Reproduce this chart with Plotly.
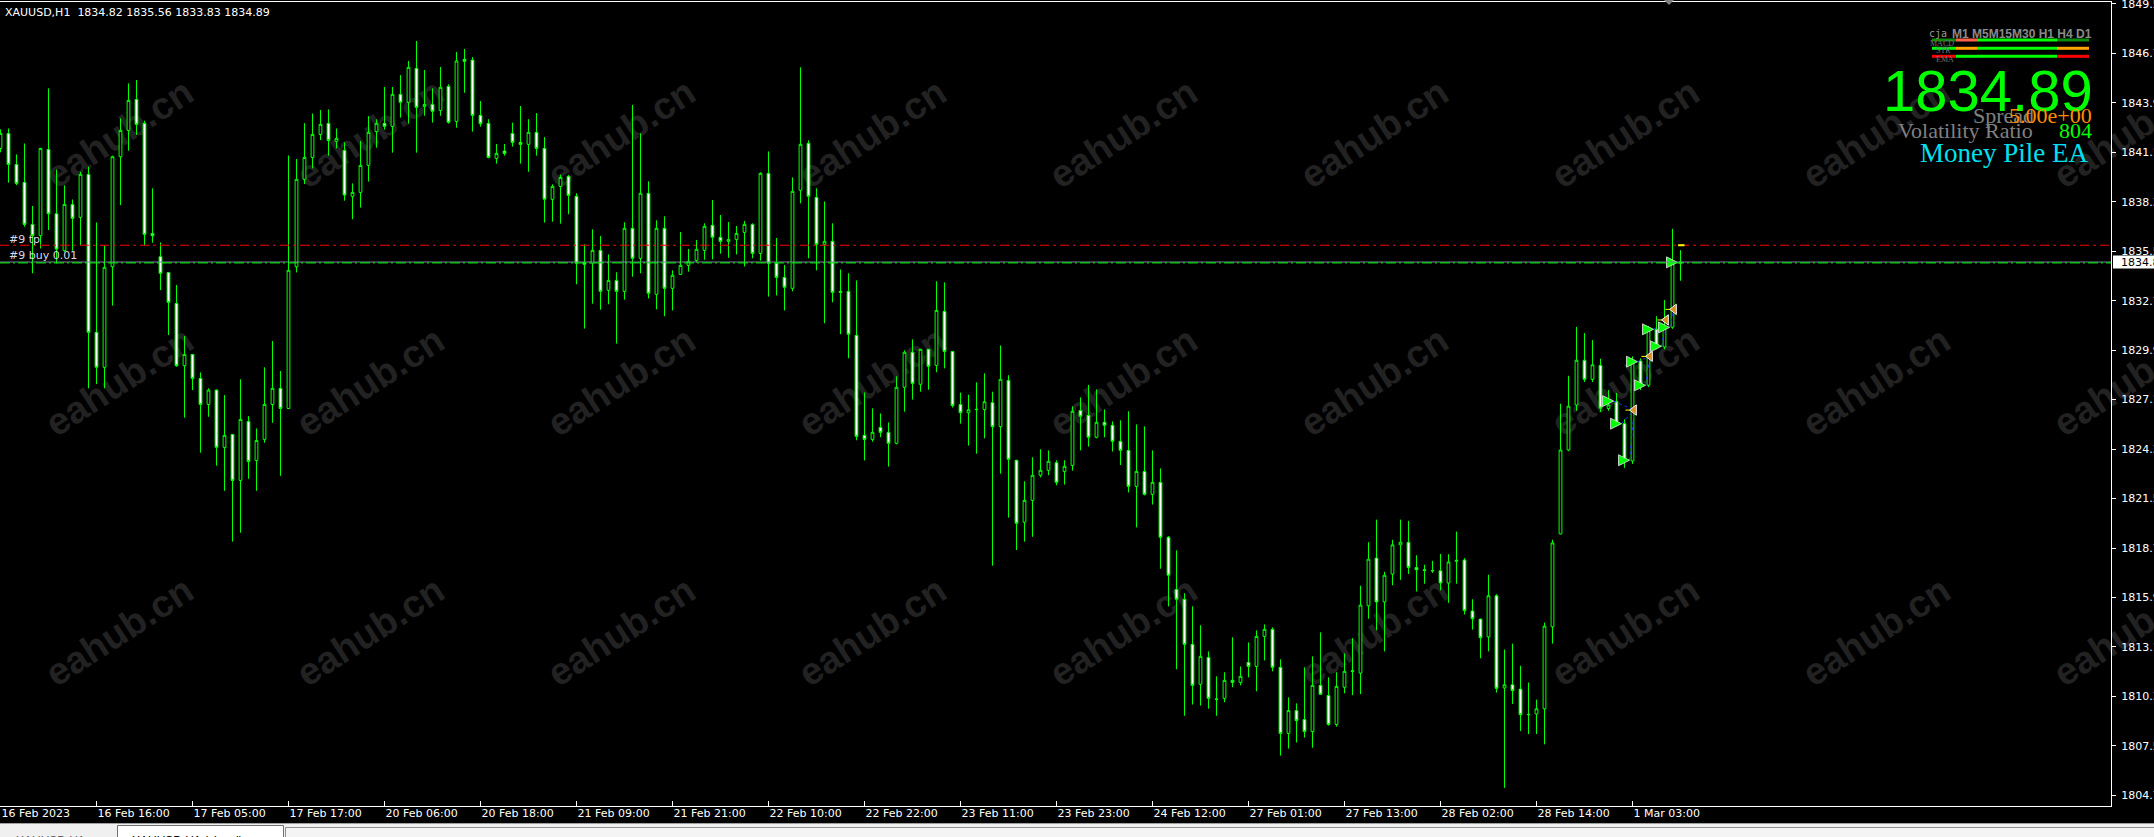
import plotly.graph_objects as go

# ---------------- data (XAUUSD H1) ----------------
opens = [1841.32, 1842.17, 1840.41, 1839.40, 1837.02, 1836.38, 1841.26, 1837.62, 1835.53, 1838.15,
         1837.42, 1839.85, 1830.91, 1828.93, 1834.62, 1840.85, 1842.34, 1844.09, 1842.74, 1836.51,
         1835.19, 1834.30, 1832.55, 1829.02, 1829.66, 1828.30, 1826.83, 1827.64, 1824.40, 1825.13,
         1822.53, 1825.87, 1823.66, 1824.85, 1826.83, 1827.74, 1826.60, 1834.62, 1839.57, 1840.81,
         1842.11, 1842.74, 1841.72, 1841.21, 1838.61, 1838.83, 1840.36, 1842.27, 1842.74, 1842.57,
         1844.38, 1843.93, 1845.85, 1843.70, 1843.81, 1843.47, 1844.83, 1842.85, 1846.36, 1846.32,
         1843.19, 1842.74, 1840.76, 1841.17, 1842.17, 1841.66, 1841.55, 1842.23, 1841.32, 1838.44,
         1839.17, 1839.74, 1838.61, 1834.87, 1834.82, 1835.55, 1833.29, 1833.85, 1833.23, 1836.80,
         1835.10, 1838.78, 1833.06, 1836.80, 1833.40, 1834.19, 1834.70, 1834.98, 1835.55, 1836.97,
         1836.29, 1836.06, 1836.17, 1836.57, 1837.02, 1835.38, 1839.91, 1834.82, 1834.02, 1833.40,
         1838.95, 1841.61, 1838.55, 1835.89, 1836.06, 1833.23, 1833.23, 1830.74, 1825.08, 1824.85,
         1825.53, 1825.25, 1824.63, 1827.80, 1829.78, 1827.97, 1829.95, 1829.04, 1832.10, 1829.83,
         1826.82, 1826.36, 1826.53, 1826.53, 1826.93, 1825.57, 1828.19, 1823.67, 1820.16, 1821.40,
         1822.82, 1823.10, 1823.53, 1823.04, 1823.38, 1826.49, 1826.21, 1824.97, 1825.82, 1825.65,
         1824.74, 1824.23, 1822.19, 1823.04, 1821.74, 1822.42, 1819.31, 1816.36, 1815.80, 1813.25,
         1810.99, 1812.51, 1810.16, 1810.19, 1811.21, 1811.10, 1812.23, 1812.00, 1813.70, 1814.10,
         1811.95, 1808.21, 1809.50, 1808.99, 1808.31, 1810.93, 1810.36, 1808.72, 1810.82, 1811.71,
         1811.62, 1815.43, 1818.13, 1815.65, 1817.23, 1818.88, 1819.03, 1817.60, 1817.47, 1817.43,
         1817.41, 1816.72, 1817.95, 1818.02, 1815.14, 1814.68, 1813.67, 1816.00, 1810.78, 1810.96,
         1810.72, 1809.29, 1809.31, 1809.60, 1814.24, 1819.50, 1824.25, 1826.80, 1829.33, 1828.25,
         1829.04, 1826.60, 1827.00, 1825.74, 1823.63, 1829.29, 1827.92, 1831.09, 1830.08, 1831.20,
         1834.82]
highs = [1842.40, 1842.45, 1840.98, 1841.60, 1838.06, 1841.35, 1844.72, 1840.13, 1839.23, 1838.43,
         1840.00, 1840.28, 1837.13, 1835.83, 1840.91, 1843.02, 1845.00, 1845.19, 1842.89, 1839.06,
         1836.00, 1834.32, 1833.59, 1830.70, 1829.68, 1828.64, 1827.74, 1827.68, 1827.36, 1825.15,
         1828.25, 1826.17, 1825.47, 1828.93, 1830.42, 1828.72, 1840.92, 1840.72, 1842.75, 1843.30,
         1843.49, 1843.53, 1842.45, 1841.66, 1839.34, 1841.74, 1843.15, 1842.97, 1844.80, 1844.80,
         1845.47, 1846.27, 1847.40, 1845.76, 1844.72, 1845.93, 1844.95, 1846.78, 1846.95, 1846.49,
         1844.00, 1842.97, 1841.57, 1841.57, 1842.78, 1843.72, 1842.97, 1843.32, 1841.96, 1839.29,
         1839.83, 1839.81, 1838.78, 1835.89, 1836.74, 1836.36, 1835.32, 1834.31, 1837.14, 1843.78,
         1842.17, 1839.46, 1837.25, 1837.48, 1834.42, 1836.59, 1835.63, 1836.14, 1837.08, 1838.40,
         1837.55, 1837.15, 1836.93, 1837.21, 1837.08, 1839.97, 1841.15, 1836.25, 1834.72, 1839.68,
         1845.91, 1841.78, 1839.06, 1838.32, 1837.08, 1834.47, 1834.25, 1833.85, 1827.51, 1826.61,
         1826.32, 1825.81, 1828.42, 1829.89, 1830.51, 1829.97, 1829.97, 1833.80, 1833.74, 1829.85,
         1827.50, 1827.38, 1828.08, 1828.59, 1827.55, 1830.17, 1828.48, 1823.69, 1822.48, 1823.84,
         1824.29, 1824.23, 1823.67, 1823.67, 1826.72, 1827.23, 1827.93, 1827.68, 1826.55, 1825.87,
         1825.93, 1826.44, 1825.70, 1825.59, 1824.23, 1823.21, 1819.38, 1818.57, 1816.14, 1815.40,
         1814.33, 1812.85, 1811.44, 1811.67, 1813.65, 1812.00, 1813.36, 1814.04, 1814.38, 1814.21,
         1812.40, 1810.25, 1809.91, 1811.95, 1812.57, 1813.93, 1811.38, 1811.67, 1812.74, 1813.60,
         1816.57, 1819.03, 1820.31, 1817.36, 1819.17, 1820.31, 1820.24, 1818.29, 1817.76, 1817.98,
         1818.37, 1818.35, 1819.63, 1818.13, 1815.80, 1814.70, 1817.19, 1816.09, 1812.96, 1813.29,
         1812.04, 1811.09, 1810.12, 1814.48, 1819.17, 1826.87, 1828.45, 1831.22, 1830.87, 1830.47,
         1829.42, 1827.64, 1827.48, 1825.99, 1829.55, 1829.44, 1831.27, 1831.82, 1832.74, 1836.77,
         1835.56]
lows = [1841.10, 1839.38, 1839.24, 1836.89, 1834.25, 1835.66, 1836.70, 1834.81, 1835.47, 1835.53,
        1835.83, 1827.74, 1827.98, 1827.74, 1832.42, 1838.11, 1841.19, 1842.08, 1835.83, 1835.98,
        1833.30, 1830.76, 1828.96, 1826.08, 1827.64, 1824.10, 1826.13, 1823.36, 1821.94, 1819.06,
        1819.57, 1822.62, 1821.94, 1824.66, 1825.79, 1822.79, 1826.58, 1834.30, 1839.30, 1840.19,
        1841.79, 1840.91, 1841.32, 1838.36, 1837.31, 1837.97, 1839.44, 1841.36, 1842.38, 1841.08,
        1843.06, 1842.72, 1841.08, 1843.17, 1842.78, 1843.17, 1842.72, 1842.49, 1844.47, 1842.27,
        1842.55, 1840.76, 1840.46, 1840.91, 1841.42, 1840.46, 1840.00, 1840.91, 1837.12, 1837.17,
        1837.06, 1837.59, 1833.63, 1831.12, 1832.53, 1832.19, 1832.50, 1830.27, 1832.76, 1834.06,
        1834.25, 1832.83, 1832.21, 1831.82, 1832.15, 1834.16, 1834.34, 1834.87, 1835.02, 1835.04,
        1835.36, 1835.13, 1835.32, 1834.64, 1835.10, 1834.97, 1832.93, 1833.00, 1832.15, 1833.23,
        1838.21, 1835.10, 1834.42, 1831.42, 1832.61, 1830.80, 1829.44, 1824.80, 1823.66, 1824.72,
        1824.97, 1823.31, 1824.57, 1826.42, 1827.10, 1827.55, 1827.66, 1828.65, 1828.87, 1826.65,
        1825.74, 1824.50, 1824.04, 1824.91, 1817.70, 1822.91, 1820.42, 1818.59, 1819.06, 1819.34,
        1822.70, 1822.82, 1822.25, 1822.29, 1823.08, 1824.23, 1824.44, 1824.91, 1824.97, 1824.16,
        1823.40, 1821.85, 1819.87, 1821.68, 1821.16, 1817.53, 1815.40, 1811.84, 1809.21, 1809.84,
        1809.78, 1809.61, 1809.21, 1809.97, 1810.82, 1810.93, 1811.38, 1810.59, 1812.34, 1811.72,
        1806.95, 1807.35, 1807.69, 1807.97, 1807.40, 1810.40, 1808.65, 1808.59, 1810.48, 1810.37,
        1810.43, 1814.70, 1814.04, 1812.85, 1816.59, 1816.90, 1817.23, 1816.24, 1816.68, 1817.30,
        1816.31, 1815.60, 1816.68, 1814.94, 1814.08, 1812.46, 1812.85, 1810.52, 1805.13, 1809.88,
        1808.34, 1808.17, 1808.17, 1807.59, 1813.29, 1819.48, 1824.18, 1826.47, 1828.10, 1828.10,
        1826.40, 1826.47, 1825.59, 1823.24, 1823.46, 1827.64, 1827.81, 1829.95, 1829.95, 1831.11,
        1833.83]
closes = [1842.17, 1840.41, 1839.34, 1837.02, 1836.38, 1841.32, 1837.62, 1835.62, 1838.15, 1837.36,
          1839.85, 1830.91, 1828.93, 1834.59, 1840.85, 1842.34, 1844.04, 1842.68, 1836.45, 1836.38,
          1834.25, 1832.60, 1829.02, 1829.66, 1828.30, 1826.83, 1827.64, 1824.40, 1825.08, 1822.53,
          1825.98, 1823.60, 1824.79, 1826.83, 1827.74, 1826.60, 1834.42, 1839.57, 1840.81, 1842.11,
          1842.68, 1841.77, 1841.89, 1838.68, 1838.83, 1840.36, 1842.23, 1842.74, 1842.57, 1844.38,
          1843.93, 1845.91, 1843.64, 1843.81, 1843.42, 1844.78, 1842.80, 1846.27, 1846.25, 1843.19,
          1842.72, 1840.81, 1841.04, 1841.04, 1841.66, 1841.55, 1842.23, 1841.32, 1838.44, 1839.17,
          1839.68, 1838.66, 1834.82, 1834.76, 1835.55, 1833.23, 1833.85, 1833.23, 1836.80, 1835.10,
          1838.78, 1833.12, 1836.80, 1833.40, 1834.14, 1834.70, 1834.93, 1835.61, 1836.91, 1836.29,
          1836.06, 1836.17, 1836.51, 1837.02, 1835.38, 1839.91, 1834.82, 1834.02, 1833.46, 1838.89,
          1841.55, 1838.61, 1835.89, 1836.06, 1833.17, 1833.17, 1830.80, 1825.02, 1824.85, 1825.25,
          1825.25, 1824.63, 1827.80, 1829.78, 1828.02, 1829.95, 1828.99, 1832.15, 1829.83, 1826.76,
          1826.36, 1826.53, 1826.55, 1826.98, 1825.57, 1828.25, 1823.72, 1820.10, 1821.40, 1822.82,
          1823.10, 1823.61, 1822.42, 1823.33, 1826.44, 1826.16, 1824.97, 1825.82, 1825.65, 1824.74,
          1824.23, 1822.19, 1823.04, 1821.74, 1822.42, 1819.31, 1817.16, 1815.80, 1813.25, 1810.93,
          1812.57, 1810.19, 1810.14, 1811.21, 1811.10, 1811.44, 1812.00, 1813.70, 1814.10, 1811.95,
          1808.21, 1809.50, 1808.93, 1808.31, 1810.93, 1810.42, 1808.72, 1810.87, 1811.72, 1811.75,
          1815.47, 1818.07, 1815.65, 1817.16, 1818.88, 1819.03, 1817.60, 1817.47, 1817.43, 1817.41,
          1816.72, 1817.91, 1818.00, 1815.16, 1814.70, 1813.62, 1816.00, 1810.76, 1810.96, 1810.63,
          1809.27, 1809.27, 1809.60, 1814.28, 1818.99, 1824.25, 1826.73, 1829.33, 1828.25, 1829.07,
          1826.62, 1826.80, 1825.74, 1823.63, 1829.22, 1827.92, 1831.05, 1830.08, 1831.20, 1834.87,
          1834.89]
bars = list(range(len(opens)))

time_tick_bars = [0, 12, 24, 36, 48, 60, 72, 84, 96, 108, 120, 132, 144, 156, 168, 180, 192, 204]
time_tick_labels = ["16 Feb 2023", "16 Feb 16:00", "17 Feb 05:00", "17 Feb 17:00", "20 Feb 06:00",
                    "20 Feb 18:00", "21 Feb 09:00", "21 Feb 21:00", "22 Feb 10:00", "22 Feb 22:00",
                    "23 Feb 11:00", "23 Feb 23:00", "24 Feb 12:00", "27 Feb 01:00", "27 Feb 13:00",
                    "28 Feb 02:00", "28 Feb 14:00", "1 Mar 03:00"]

price_ticks = [1804.70, 1807.50, 1810.30, 1813.10, 1815.90, 1818.70, 1821.50, 1824.30, 1827.10,
               1829.90, 1832.70, 1835.50, 1838.30, 1841.10, 1843.90, 1846.70, 1849.50]
price_tick_labels = ["1804.70", "1807.50", "1810.30", "1813.10", "1815.90", "1818.70", "1821.50",
                     "1824.30", "1827.10", "1829.90", "1832.70", "1835.50", "1838.30", "1841.10",
                     "1843.90", "1846.70", "1849.50"]

bid_price = 1834.89
tp_price = 1835.84
order_price = 1834.84

# trades (entry arrows and exits)
buy_bars = [202, 203, 204, 205, 206, 207, 208, 209, 210]
buy_prices = [1827.02, 1825.74, 1823.67, 1829.25, 1827.91, 1831.08, 1830.12, 1831.19, 1834.87]
close_bars = [204, 206, 208, 209]
close_prices = [1826.51, 1829.55, 1831.61, 1832.21]
trade_open_idx = [0, 1, 2, 3, 4, 5, 6, 7]      # index into buy list
trade_close_idx = [0, 0, 0, 1, 1, 2, 2, 3]     # index into close list

header_text = "XAUUSD,H1\u00a0 1834.82 1835.56 1833.83 1834.89"
panel_price = "1834.89"
spread_text = "5.00e+00"
vol_ratio = "804"

# signal bars (MACD / STR / EMA rows)
signal_rows = [["#0a8a0a", "#ff6347", "#00ff00", "#0a8a0a"],
               ["#00ff00", "#ffa500", "#00ff00", "#ffa500"],
               ["#ff0000", "#00ff00", "#00ff00", "#ff0000"]]

# ---------------- geometry helpers ----------------
W, H = 2154, 837
PR, PT, PB = 2111, 2, 806          # plot right / top / bottom in px
X0 = -0.0625
X1 = X0 + PR / 8.0
Y_TOP, Y_BOT = 1849.607, 1804.10
FONT = "DejaVu Sans"


def px(x):
    return x / PR


def py(y):
    return (PB - y) / (PB - PT)


fig = go.Figure()

fig.add_trace(go.Candlestick(
    x=bars, open=opens, high=highs, low=lows, close=closes,
    increasing=dict(line=dict(color="#00ff00", width=1), fillcolor="#000000"),
    decreasing=dict(line=dict(color="#00ff00", width=1), fillcolor="#ffffff"),
    whiskerwidth=0, showlegend=False, hoverinfo="skip"))

# trade connection lines
for oi, ci in zip(trade_open_idx, trade_close_idx):
    fig.add_trace(go.Scatter(
        x=[buy_bars[oi] - 0.375, close_bars[ci] + 0.2],
        y=[buy_prices[oi], close_prices[ci]],
        mode="lines", line=dict(color="#2030ff", width=1, dash="dot"),
        showlegend=False, hoverinfo="skip"))

# exit marks
fig.add_trace(go.Scatter(
    x=[b - 0.45 for b in close_bars], y=close_prices, mode="markers",
    marker=dict(symbol="line-ew", size=5, line=dict(color="#ffff00", width=1)),
    showlegend=False, hoverinfo="skip"))
fig.add_trace(go.Scatter(
    x=[b + 0.2 for b in close_bars], y=close_prices, mode="markers",
    marker=dict(symbol="triangle-left", size=9, color="#d98c1f",
                line=dict(color="#f0f0f0", width=1)),
    showlegend=False, hoverinfo="skip"))
# entry arrows
fig.add_trace(go.Scatter(
    x=[b - 0.375 for b in buy_bars], y=buy_prices, mode="markers",
    marker=dict(symbol="arrow-right", size=11, color="#00ff00",
                line=dict(color="#e8e8e8", width=0.8)),
    showlegend=False, hoverinfo="skip"))

shapes = []
# watermarks
wm_x = [117, 368, 619, 870, 1121, 1372, 1623, 1874, 2125]
wm_y = [130, 378, 628]
for cy in wm_y:
    for cx in wm_x:
        shapes.append(dict(
            type="rect", xref="paper", yref="paper", layer="below",
            x0=px(cx - 110), x1=px(cx + 110), y0=py(cy + 90), y1=py(cy - 90),
            line=dict(width=0), fillcolor="rgba(0,0,0,0)",
            label=dict(text="eahub.cn", textangle=-33, textposition="middle center",
                       font=dict(family="Liberation Sans", size=38, color="#222222", weight="bold"))))

# bid / order / tp lines
shapes.append(dict(type="line", xref="paper", yref="y", x0=0, x1=1, y0=bid_price, y1=bid_price,
                   line=dict(color="#778899", width=1), layer="above"))
shapes.append(dict(type="line", xref="paper", yref="y", x0=0, x1=1, y0=order_price, y1=order_price,
                   line=dict(color="#00ff00", width=1, dash="10px,3px,2px,3px"), layer="above"))
shapes.append(dict(type="line", xref="paper", yref="y", x0=0, x1=1, y0=tp_price, y1=tp_price,
                   line=dict(color="#ff0000", width=1, dash="9px,4px,3px,4px"), layer="above"))
# yellow tick on tp line at last bar
shapes.append(dict(type="line", xref="x", yref="y", x0=209.7, x1=210.5, y0=tp_price, y1=tp_price,
                   line=dict(color="#ffff00", width=2), layer="above"))

# current price box on the price scale
shapes.append(dict(type="rect", xref="paper", yref="y", ysizemode="pixel", yanchor=bid_price,
                   x0=px(2113), x1=px(2160), y0=-6.5, y1=6.5,
                   fillcolor="#ffffff", line=dict(width=0), layer="above"))

# chart-shift marker at top
shapes.append(dict(type="path", xref="paper", yref="paper",
                   path=f"M {px(1664)},{py(0)} L {px(1674)},{py(0)} L {px(1669)},{py(5)} Z",
                   fillcolor="#808080", line=dict(width=0), layer="above"))

# signal panel bars
seg_edges = [1932, 1956, 1977, 2057, 2089]
row_y = [40, 48.3, 56.3]
for ry, colors in zip(row_y, signal_rows):
    for i, c in enumerate(colors):
        shapes.append(dict(type="rect", xref="paper", yref="paper",
                           x0=px(seg_edges[i]), x1=px(seg_edges[i + 1]),
                           y0=py(ry + 1.5), y1=py(ry - 1.5),
                           fillcolor=c, line=dict(width=0), layer="above"))

# bottom tab bar
shapes.append(dict(type="rect", xref="paper", yref="paper", x0=px(0), x1=px(W + 5),
                   y0=py(H + 5), y1=py(823), fillcolor="#f0f0f0", line=dict(width=0), layer="above"))
shapes.append(dict(type="line", xref="paper", yref="paper", x0=px(0), x1=px(W + 5),
                   y0=py(823.5), y1=py(823.5), line=dict(color="#a0a0a0", width=1), layer="above"))
shapes.append(dict(type="rect", xref="paper", yref="paper", x0=px(117.5), x1=px(283.5),
                   y0=py(H + 5), y1=py(825.5), fillcolor="#ffffff",
                   line=dict(color="#707070", width=1), layer="above"))
shapes.append(dict(type="rect", xref="paper", yref="paper", x0=px(285.5), x1=px(W + 5),
                   y0=py(H + 5), y1=py(827.5), fillcolor="#f4f4f4",
                   line=dict(color="#909090", width=1), layer="above"))

annotations = []


def txt(text, x, y, size, color, family=FONT, xanchor="left", yanchor="middle", weight="normal"):
    annotations.append(dict(text=text, x=px(x), y=py(y), xref="paper", yref="paper",
                            xanchor=xanchor, yanchor=yanchor, showarrow=False,
                            font=dict(family=family, size=size, color=color, weight=weight)))


txt(header_text, 3, 12, 11, "#ffffff")
txt("#9 tp", 7, 239, 11, "#d8d8e8")
txt("#9 buy 0.01", 7, 256, 11, "#d8d8e8")
# current price label on axis
annotations.append(dict(text=panel_price, x=px(2119), y=bid_price, xref="paper", yref="y",
                        xanchor="left", yanchor="middle", showarrow=False,
                        font=dict(family=FONT, size=11, color="#000000")))

# signal panel texts
txt("cja", 1927, 33, 10, "#9a9a9a", family="DejaVu Sans Mono")
txt("M1 M5M15M30 H1 H4 D1", 1950, 34, 12, "#8a8a8a", family="Liberation Sans", weight="bold")
txt("MACD", 1928, 43, 8, "#707070", family="Liberation Serif")
txt("STR", 1934, 51, 8, "#707070", family="Liberation Serif")
txt("EMA", 1934, 59, 8, "#707070", family="Liberation Serif")
txt(panel_price, 2095, 91, 58, "#00ff00", family="Liberation Sans", xanchor="right")
txt("Spread", 1971, 116, 22, "#808080", family="Liberation Serif")
txt(spread_text, 2094, 116, 22, "#ff8c00", family="Liberation Serif", xanchor="right")
txt("Volatility Ratio", 1896, 130, 22, "#808080", family="Liberation Serif")
txt(vol_ratio, 2094, 130, 22, "#00ff00", family="Liberation Serif", xanchor="right")
txt("Money Pile EA", 2090, 153, 27, "#00e0f0", family="Liberation Serif", xanchor="right")

# tab captions
txt("XAUUSD,H1", 14, 832, 12, "#606060", family="Liberation Sans", yanchor="top")
txt("XAUUSD,H1 (visual)", 130, 832, 12, "#000000", family="Liberation Sans", yanchor="top")

fig.update_layout(
    width=W, height=H, autosize=False,
    margin=dict(l=0, r=W - PR, t=PT, b=H - PB, pad=0, autoexpand=False),
    paper_bgcolor="#000000", plot_bgcolor="#000000",
    showlegend=False, boxgap=0.5,
    shapes=shapes, annotations=annotations,
    xaxis=dict(range=[X0, X1], rangeslider=dict(visible=False), fixedrange=True,
               automargin=False,
               tickmode="array", tickvals=time_tick_bars, ticktext=time_tick_labels,
               ticks="inside", ticklen=5, tickwidth=1, tickcolor="#ffffff",
               ticklabelposition="outside right", ticklabeloverflow="allow",
               ticklabelstandoff=-3,
               tickfont=dict(family=FONT, size=11, color="#ffffff"),
               showline=True, linecolor="#ffffff", linewidth=1, mirror=True,
               showgrid=False, zeroline=False),
    yaxis=dict(range=[Y_BOT, Y_TOP], side="right", fixedrange=True,
               automargin=False,
               tickmode="array", tickvals=price_ticks, ticktext=price_tick_labels,
               ticks="outside", ticklen=4, tickwidth=1, tickcolor="#ffffff",
               ticklabeloverflow="allow", ticklabelstandoff=3,
               tickfont=dict(family=FONT, size=11, color="#ffffff"),
               showline=True, linecolor="#ffffff", linewidth=1,
               showgrid=False, zeroline=False),
)

fig.write_html("out.html", config={"displayModeBar": False, "responsive": False},
               post_script="document.body.style.margin='0';document.body.style.overflow='hidden';")
